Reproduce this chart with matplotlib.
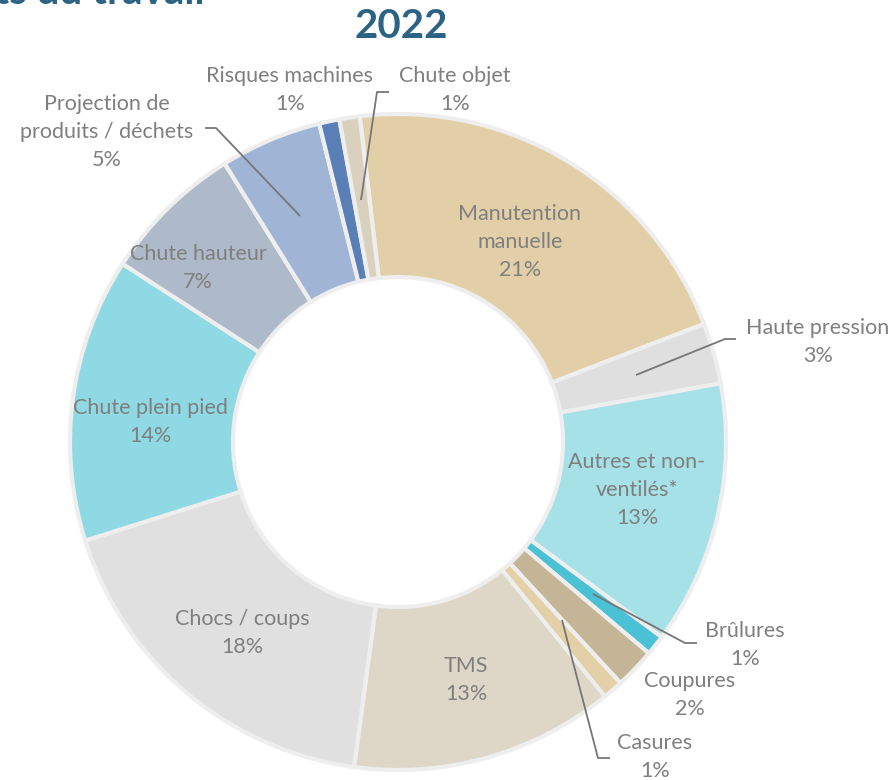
"""
Donut chart of accident causes (2022), recreated from the reference picture.
"""

import numpy as np
import matplotlib.pyplot as plt

# ---- data ---------------------------------------------------------------
labels = [
    "Manutention\nmanuelle",
    "Haute pression",
    "Autres et non-\nventilés*",
    "Brûlures",
    "Coupures",
    "Casures",
    "TMS",
    "Chocs / coups",
    "Chute plein pied",
    "Chute hauteur",
    "Projection de\nproduits / déchets",
    "Risques machines",
    "Chute objet",
]
values = [21, 3, 13, 1, 2, 1, 13, 18, 14, 7, 5, 1, 1]
colors = [
    "#E2CFA7", "#DFDFDF", "#A5E1E7", "#4AC1D5", "#C4B596", "#E4D0A6",
    "#DED7C7", "#E0E0E0", "#8ED9E3", "#AEBAC9", "#A0B5D5", "#5A7FB7",
    "#D9D1BE",
]

# label text positions in pixels (x, y from top)
label_pos = [
    (520, 242), (818, 342), (637, 490), (745, 645), (690, 695), (655, 757),
    (466, 680), (242, 633), (150, 422), (198, 268), (107, 132), (290, 90),
    (455, 90),
]
# leader lines: anchor inside the wedge -> elbow -> end next to the text
leaders = {
    1: dict(anchor=(636, 375), elbow=(725, 339), end=(736, 339)),
    3: dict(anchor=(593, 594), elbow=(685, 643), end=(697, 643)),
    5: dict(anchor=(562, 620), elbow=(598, 758), end=(610, 758)),
    10: dict(anchor=(300, 216), elbow=(216, 128), end=(205, 128)),
    12: dict(anchor=(361, 200), elbow=(377, 92), end=(389, 92)),
}

W, H = 894, 780
CX, CY = 398, 442          # donut centre in pixels (y from top)
R_OUT, R_IN = 328, 165
START = 96.7               # angle where the first slice begins

TEXT_COLOR = "#7F7F7F"
TITLE_COLOR = "#2C6384"

plt.rcParams["font.family"] = ["Lato", "DejaVu Sans"]


def py(y):
    """pixel row (from top) -> data y (from bottom)"""
    return H - y


fig = plt.figure(figsize=(W / 100, H / 100), dpi=100)
ax = fig.add_axes([0, 0, 1, 1])

wedges, _ = ax.pie(
    values,
    colors=colors,
    radius=R_OUT,
    center=(CX, py(CY)),
    startangle=START,
    counterclock=False,
    wedgeprops=dict(width=R_OUT - R_IN, edgecolor="#EEEEEE", linewidth=3),
)

for i, (lab, val) in enumerate(zip(labels, values)):
    x, y = label_pos[i]
    ax.text(x, py(y), f"{lab}\n{val}%", ha="center", va="center",
            fontsize=15.5, color=TEXT_COLOR, linespacing=1.48)

for i, ld in leaders.items():
    pts = [ld["anchor"], ld["elbow"], ld["end"]]
    ax.plot([p[0] for p in pts], [py(p[1]) for p in pts],
            color="#767676", linewidth=1.3, solid_capstyle="butt")

ax.text(401, py(27), "2022", ha="center", va="center", fontsize=29,
        fontweight="bold", color=TITLE_COLOR)
ax.text(205, py(4), "Accidents du travail", ha="right", va="baseline",
        fontsize=29, fontweight="bold", color=TITLE_COLOR)

ax.set_xlim(0, W)
ax.set_ylim(0, H)
ax.set_aspect("equal")
ax.axis("off")

plt.savefig("out.png", dpi=100)
